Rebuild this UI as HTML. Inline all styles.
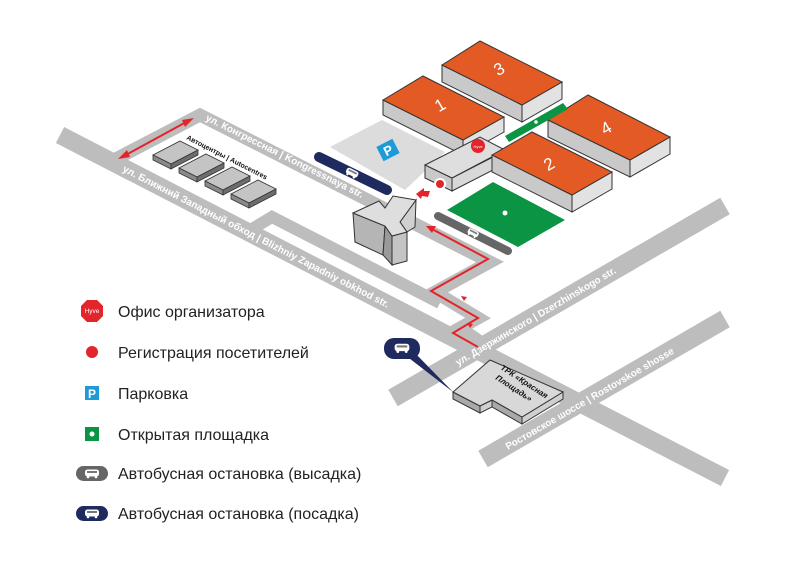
<!DOCTYPE html>
<html><head><meta charset="utf-8"><style>
html,body{margin:0;padding:0;background:#fff;}
svg{display:block;}
.lg{font-family:"Liberation Sans",sans-serif;font-size:16px;fill:#222;}
.rd{font-family:"Liberation Sans",sans-serif;font-size:10px;fill:#fff;font-weight:bold;}
</style></head><body>
<svg width="800" height="566" viewBox="0 0 800 566" xmlns="http://www.w3.org/2000/svg">
<defs>
<g id="bus"><rect x="-7" y="-4" width="14" height="7" rx="2.5" fill="#fff"/><rect x="-5" y="-2.5" width="10" height="2" fill="#777"/><circle cx="-4" cy="3.5" r="1.3" fill="#fff"/><circle cx="4" cy="3.5" r="1.3" fill="#fff"/></g>
</defs>
<!-- roads -->
<g fill="none" stroke="#bdbdbd" stroke-linejoin="miter">
<line x1="60" y1="135" x2="725" y2="478" stroke-width="18"/>
<line x1="393" y1="398" x2="725" y2="206" stroke-width="19"/>
<line x1="483" y1="459" x2="725" y2="319" stroke-width="19"/>
<polyline points="110,162 200,115 490,262 435,292 478,318 460,328 480,342" stroke-width="13"/>
<polyline points="252,229 272,217 440,303" stroke-width="12"/>
</g>
<!-- road labels -->
<text class="rd" transform="translate(205,120) rotate(26.5)">ул. Конгрессная | Kongressnaya str.</text>
<text class="rd" transform="translate(122,171) rotate(27.3)">ул. Ближний Западный обход | Blizhniy Zapadniy obkhod str.</text>
<text class="rd" transform="translate(458,366) rotate(-30.5)">ул. Дзержинского | Dzerzhinskogo str.</text>
<text class="rd" transform="translate(508,450) rotate(-30.2)">Ростовское шоссе | Rostovskoe shosse</text>
<!-- red arrows top-left -->
<g stroke="#e3242b" stroke-width="2" fill="#e3242b">
<line x1="124" y1="156" x2="188" y2="121"/>
<polygon points="118,159 127,150 130,157" stroke="none"/>
<polygon points="194,118 185,127 182,120" stroke="none"/>
</g>
<!-- autocentres -->
<g stroke="#333" stroke-width="0.8">
<g id="ac"><polygon points="153,155 180,141 198,150 171,164" fill="#c4c4c4"/><polygon points="153,155 171,164 171,169 153,160" fill="#8a8a8a"/><polygon points="171,164 198,150 198,155 171,169" fill="#6d6d6d"/></g>
<use href="#ac" x="26" y="13"/><use href="#ac" x="52" y="26"/><use href="#ac" x="78" y="39"/>
</g>
<text transform="translate(186,139) rotate(27)" font-family="Liberation Sans,sans-serif" font-size="7" font-weight="bold" fill="#111">Автоцентры | Autocentres</text>
<!-- parking -->
<polygon points="330,147 382,120 445,152 405,190" fill="#dcdcdc"/>
<g transform="translate(388,150) rotate(-27)"><rect x="-9" y="-8" width="18" height="16" fill="#1d9ad8"/><text x="0" y="5" text-anchor="middle" font-family="Liberation Sans,sans-serif" font-size="13" font-weight="bold" fill="#fff">P</text></g>
<line x1="319" y1="157" x2="387" y2="190" stroke="#1f2a5e" stroke-width="10" stroke-linecap="round"/>
<use href="#bus" transform="translate(352,173) rotate(27) scale(0.9)"/>
<!-- halls -->
<g stroke="#333" stroke-width="1">
<polygon points="442,65 442,82 522,122 522,105" fill="#c9c9c9"/>
<polygon points="522,105 562,82 562,99 522,122" fill="#e2e2e2"/>
<polygon points="442,65 480,41 562,82 522,105" fill="#e35a24"/>
<polygon points="383,100 383,115 463,155 463,140" fill="#c9c9c9"/>
<polygon points="463,140 504,117 504,132 463,155" fill="#e2e2e2"/>
<polygon points="383,100 423,76 504,117 463,140" fill="#e35a24"/>
<polygon points="548,120 548,137 630,177 630,160" fill="#c9c9c9"/>
<polygon points="630,160 670,137 670,154 630,177" fill="#e2e2e2"/>
<polygon points="548,120 588,95 670,137 630,160" fill="#e35a24"/>
</g>
<polygon points="505,136 563,103 568,109 509,142" fill="#0b9444"/>
<circle cx="536" cy="122" r="1.8" fill="#fff"/>
<g stroke="#333" stroke-width="1">
<polygon points="425,165 425,178 452,191 452,178" fill="#c9c9c9"/>
<polygon points="452,178 495,156 495,169 452,191" fill="#d8d8d8"/>
<polygon points="425,165 480,137 505,150 452,178" fill="#dedede"/>
</g>
<g stroke="#333" stroke-width="1">
<polygon points="492,155 492,172 572,212 572,195" fill="#c9c9c9"/>
<polygon points="572,195 612,172 612,189 572,212" fill="#e2e2e2"/>
<polygon points="492,155 532,132 612,172 572,195" fill="#e35a24"/>
</g>
<g font-family="Liberation Sans,sans-serif" font-size="17" fill="#fff" text-anchor="middle">
<text transform="translate(443,110) rotate(-30)">1</text>
<text transform="translate(502,74) rotate(-30)">3</text>
<text transform="translate(609,133) rotate(-30)">4</text>
<text transform="translate(552,169) rotate(-30)">2</text>
</g>
<circle cx="478" cy="146" r="7" fill="#e3242b"/>
<text x="478" y="148" text-anchor="middle" font-family="Liberation Sans,sans-serif" font-size="4" fill="#fff">Hyve</text>
<polygon points="447,210 493,182 565,220 518,247" fill="#0b9444"/>
<circle cx="505" cy="213" r="2.5" fill="#fff"/>
<line x1="438" y1="216" x2="508" y2="251" stroke="#666" stroke-width="8" stroke-linecap="round"/>
<use href="#bus" transform="translate(473,233) rotate(27) scale(0.8)"/>
<circle cx="440" cy="184" r="6" fill="#fff"/>
<circle cx="440" cy="184" r="4" fill="#e3242b"/>
<polygon points="416,194 424,188 424,191 430,191 428,197 422,196 421,199" fill="#e3242b"/>
<g stroke="#333" stroke-width="1">
<polygon points="353,213 355,242 383,255 385,226" fill="#b5b5b5"/>
<polygon points="385,226 383,255 392,265 392,236" fill="#9a9a9a"/>
<polygon points="392,236 392,265 407,261 407,232" fill="#c4c4c4"/>
<polygon points="400,222 407,232 415,227 416,200" fill="#d0d0d0"/>
<polygon points="353,213 379,201 385,208 393,196 416,200 400,222 407,232 392,236 385,226" fill="#dedede"/>
</g>
<g stroke="#e3242b" stroke-width="2" fill="none">
<polyline points="478,347 453,333 478,318 431,291 488,259 432,229"/>
</g>
<polygon points="426,226 436,226 432,233" fill="#e3242b"/>
<polygon points="461,296 467,297 464,301" fill="#e3242b"/>
<polygon points="467,323 473,324 470,328" fill="#e3242b"/>
<g stroke="#333" stroke-width="1">
<polygon points="453,392 453,399 480,413 480,406" fill="#a9a9a9"/>
<polygon points="492,400 492,407 522,424 522,417" fill="#a9a9a9"/>
<polygon points="480,406 492,400 492,407 480,413" fill="#d0d0d0"/>
<polygon points="522,417 563,392 563,399 522,424" fill="#d0d0d0"/>
<polygon points="453,392 490,360 563,392 522,417 492,400 480,406" fill="#d8d8d8"/>
</g>
<text transform="translate(500,369) rotate(33)" font-family="Liberation Sans,sans-serif" font-size="8" font-weight="bold" font-style="italic" fill="#111">ТРК «Красная</text>
<text transform="translate(495,379) rotate(33)" font-family="Liberation Sans,sans-serif" font-size="8" font-weight="bold" font-style="italic" fill="#111">Площадь»</text>
<polygon points="405,355 414,352 453,392" fill="#1f2a5e"/>
<rect x="384" y="338" width="36" height="21" rx="10" fill="#1f2a5e"/>
<use href="#bus" transform="translate(402,348) scale(1.05)"/>
<polygon points="87,300 97,300 103,306 103,316 97,322 87,322 81,316 81,306" fill="#e3242b"/>
<text x="92" y="313" text-anchor="middle" font-family="Liberation Sans,sans-serif" font-size="6.5" fill="#fff">Hyve</text>
<circle cx="92" cy="352" r="6" fill="#e3242b"/>
<rect x="85" y="386" width="14" height="14" fill="#1d9ad8"/>
<text x="92" y="398" text-anchor="middle" font-family="Liberation Sans,sans-serif" font-size="12" font-weight="bold" fill="#fff">P</text>
<rect x="85" y="427" width="14" height="14" fill="#0b9444"/>
<circle cx="92" cy="434" r="2.5" fill="#fff"/>
<rect x="76" y="466" width="32" height="15" rx="7.5" fill="#666"/>
<use href="#bus" transform="translate(92,473.5)"/>
<rect x="76" y="506" width="32" height="15" rx="7.5" fill="#1f2a5e"/>
<use href="#bus" transform="translate(92,513.5)"/>
<text class="lg" x="118" y="317">Офис организатора</text>
<text class="lg" x="118" y="358">Регистрация посетителей</text>
<text class="lg" x="118" y="399">Парковка</text>
<text class="lg" x="118" y="440">Открытая площадка</text>
<text class="lg" x="118" y="479">Автобусная остановка (высадка)</text>
<text class="lg" x="118" y="519">Автобусная остановка (посадка)</text>
</svg>
</body></html>
